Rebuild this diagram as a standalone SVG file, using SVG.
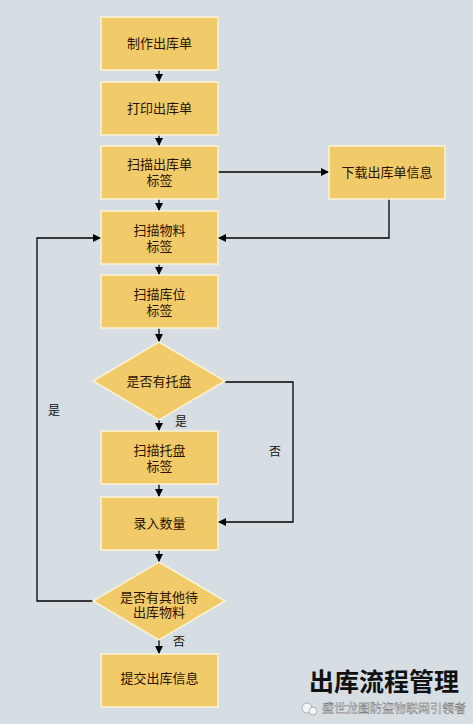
<svg xmlns="http://www.w3.org/2000/svg" width="473" height="724" viewBox="0 0 473 724">
<defs>
<marker id="ah" viewBox="0 0 8 8" refX="8" refY="4" markerWidth="8" markerHeight="8" markerUnits="userSpaceOnUse" orient="auto">
<path d="M0,0 L8,4 L0,8 z" fill="#000"/>
</marker>
<style>
.bg{fill:#d6dee4}
.box{fill:#f1ca69;stroke:#fbf3d6;stroke-width:1.5}
.t{font-family:"Liberation Sans","Noto Sans CJK SC",sans-serif;font-size:13px;fill:#2a1200;text-anchor:middle}
.lbl{font-family:"Liberation Sans","Noto Sans CJK SC",sans-serif;font-size:12px;fill:#111;text-anchor:middle}
.c{fill:none;stroke:#000;stroke-width:1.3;marker-end:url(#ah)}
</style>
</defs>
<rect class="bg" x="0" y="0" width="473" height="724"/>
<g id="connectors">
<line class="c" x1="159" y1="70" x2="159" y2="82"/>
<line class="c" x1="159" y1="135" x2="159" y2="146"/>
<line class="c" x1="159" y1="199" x2="159" y2="211"/>
<line class="c" x1="159" y1="264" x2="159" y2="275"/>
<line class="c" x1="159" y1="328" x2="159" y2="342"/>
<line class="c" x1="159" y1="420" x2="159" y2="431"/>
<line class="c" x1="159" y1="484" x2="159" y2="497"/>
<line class="c" x1="159" y1="550" x2="159" y2="562"/>
<line class="c" x1="159" y1="640" x2="159" y2="654"/>
<line class="c" x1="218" y1="172" x2="329" y2="172"/>
<polyline class="c" points="389,199 389,238 218,238"/>
<polyline class="c" points="93,601 37,601 37,238 101,238"/>
<polyline class="c" points="225,382 293,382 293,522 218,522"/>
</g>
<g id="n1"><rect class="box" x="101" y="17" width="117" height="53"/><text class="t" x="159.5" y="48">制作出库单</text></g>
<g id="n2"><rect class="box" x="101" y="82" width="117" height="53"/><text class="t" x="159.5" y="113">打印出库单</text></g>
<g id="n3"><rect class="box" x="101" y="146" width="117" height="53"/><text class="t" x="159.5" y="169">扫描出库单</text><text class="t" x="159.5" y="185">标签</text></g>
<g id="n4"><rect class="box" x="101" y="211" width="117" height="53"/><text class="t" x="159.5" y="235">扫描物料</text><text class="t" x="159.5" y="251">标签</text></g>
<g id="n5"><rect class="box" x="101" y="275" width="117" height="53"/><text class="t" x="159.5" y="299">扫描库位</text><text class="t" x="159.5" y="315">标签</text></g>
<g id="d1"><polygon class="box" points="159,342 225,381 159,420 93,381"/><text class="t" x="159" y="386">是否有托盘</text></g>
<g id="n6"><rect class="box" x="101" y="431" width="117" height="53"/><text class="t" x="159.5" y="455">扫描托盘</text><text class="t" x="159.5" y="471">标签</text></g>
<g id="n7"><rect class="box" x="101" y="497" width="117" height="53"/><text class="t" x="159.5" y="528">录入数量</text></g>
<g id="d2"><polygon class="box" points="159,562 225,601 159,640 93,601"/><text class="t" x="159" y="602">是否有其他待</text><text class="t" x="159" y="617">出库物料</text></g>
<g id="n8"><rect class="box" x="101" y="654" width="117" height="53"/><text class="t" x="159.5" y="683">提交出库信息</text></g>
<g id="n9"><rect class="box" x="329" y="146" width="116" height="53"/><text class="t" x="387" y="177">下载出库单信息</text></g>
<g id="labels">
<text class="lbl" x="54" y="415">是</text>
<text class="lbl" x="181" y="426">是</text>
<text class="lbl" x="275" y="456">否</text>
<text class="lbl" x="179" y="646">否</text>
</g>
<g id="title">
<text x="384" y="691" font-family="'Noto Sans CJK SC',sans-serif" font-weight="bold" font-size="25" fill="#111" text-anchor="middle">出库流程管理</text>
<circle cx="307" cy="708" r="5" fill="#f4f4f4" stroke="#888" stroke-width="0.6"/>
<circle cx="313" cy="711" r="4" fill="#f4f4f4" stroke="#888" stroke-width="0.6"/>
<text x="394" y="713" font-family="'Noto Sans CJK SC',sans-serif" font-size="12" fill="#fafafa" stroke="#666" stroke-width="0.4" text-anchor="middle">盛世龙图防盗物联网引领者</text>
</g>
</svg>
